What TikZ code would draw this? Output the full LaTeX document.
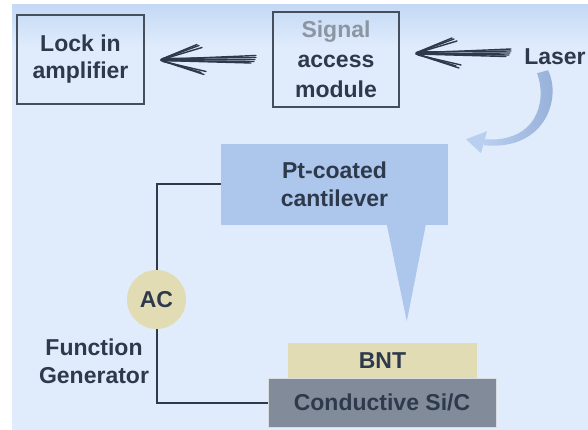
\documentclass[tikz,border=0pt]{standalone}
\usepackage{fontspec}
\setmainfont{Liberation Sans}
\usetikzlibrary{calc}
\definecolor{bgblue}{HTML}{E0ECFC}
\definecolor{bgtop}{HTML}{C4D9F5}
\definecolor{ink}{HTML}{2E3A4C}
\definecolor{boxline}{HTML}{444E5D}
\definecolor{sigray}{HTML}{8C96A2}
\definecolor{cantblue}{HTML}{ADC6EC}
\definecolor{beige}{HTML}{E2DCB5}
\definecolor{slab}{HTML}{818B9A}
\definecolor{arcdark}{HTML}{93ADD6}
\definecolor{arclight}{HTML}{B9CFF0}
\tikzset{
  lbl/.style={font=\bfseries\fontsize{23}{29}\selectfont, text=ink, align=center, inner sep=0pt},
  framebox/.style={draw=boxline, line width=2pt, inner sep=0pt},
  wire/.style={draw=ink, line width=2pt},
  sk/.style={draw=ink, line width=1.4pt, line cap=round},
}
\newcommand{\sketchyarrow}[1]{%
  \begin{scope}[shift={(#1)}]
    \draw[sk] (95,-4) -- (0,0);
    \draw[sk] (95,-2) -- (1,-1);
    \draw[sk] (94,0) -- (2,0.5);
    \draw[sk] (93,2) -- (2,1);
    \draw[sk] (90,3.5) -- (0,1);
    \draw[sk] (0,0) -- (38,-14);
    \draw[sk] (1,0) -- (41,-12);
    \draw[sk] (2,-1) -- (36,-15);
    \draw[sk] (0,1) -- (43,15);
    \draw[sk] (1,1) -- (40,13);
    \draw[sk] (2,2) -- (45,12);
  \end{scope}}
\begin{document}
\begin{tikzpicture}[x=1pt,y=-1pt]
\useasboundingbox (0,0) rectangle (588,430);
% background
\fill[bgblue] (12,5) rectangle (588,430);
\shade[top color=bgtop, bottom color=bgblue] (12,5) rectangle (588,48);

% top boxes
\node[framebox, lbl, minimum width=127pt, minimum height=89pt] (lock) at (80.5,59.5)
  {\raisebox{-2pt}{Lock in}\\amplifier};
\node[framebox, lbl, minimum width=126pt, minimum height=95pt,
  font=\bfseries\fontsize{23}{30}\selectfont] (sig) at (336,59.5)
  {\textcolor{sigray}{Signal}\\access\\module};
\node[lbl] (laser) at (555,57) {Laser};

% sketchy arrows
\coordinate (tipA) at ($(sig.east)+(16,-6.5)$);
\coordinate (tipB) at ($(lock.east)+(16,0)$);
\sketchyarrow{tipA}
\sketchyarrow{tipB}

% curved arrow from laser to cantilever
\coordinate (cstart) at ($(laser.south)+(-13,5)$);
\begin{scope}[shift={(cstart)}]
  \shade[left color=arclight, right color=arcdark]
    (6,0) .. controls (20,28) and (3,81) .. (-58,75)
    -- (-58,69) .. controls (-7,73) and (6,33) .. (-5,3) -- cycle;
  \fill[arclight] (-76,69) -- (-55,61) -- (-61,83) -- cycle;
\end{scope}

% cantilever
\node[fill=cantblue, lbl, minimum width=227pt, minimum height=81pt,
  font=\bfseries\fontsize{23}{27.5}\selectfont] (cant) at (334.5,184.5)
  {Pt-coated\\cantilever};
\fill[cantblue] ($(cant.south west)+(166,-0.5)$) -- ($(cant.south west)+(205,-0.5)$)
  -- ($(cant.south west)+(186,96)$) -- cycle;

% sample
\node[fill=beige, lbl, minimum width=189pt, minimum height=35pt] (bnt) at (382.5,360.5) {BNT};
\node[fill=slab, draw=white!70!slab, line width=0.6pt, lbl, minimum width=228pt, minimum height=49pt] (sic) at (382,402.5) {Conductive Si/C};

% function generator
\node[circle, fill=beige, minimum size=59pt, lbl] (ac) at (156.5,299.5) {AC};
\node[lbl, font=\bfseries\fontsize{23}{28}\selectfont] (fg) at (94,361) {Function\\Generator};

% wires
\draw[wire] (cant.west) -| (ac.north);
\draw[wire] (ac.south) |- (sic.west);
\end{tikzpicture}
\end{document}
